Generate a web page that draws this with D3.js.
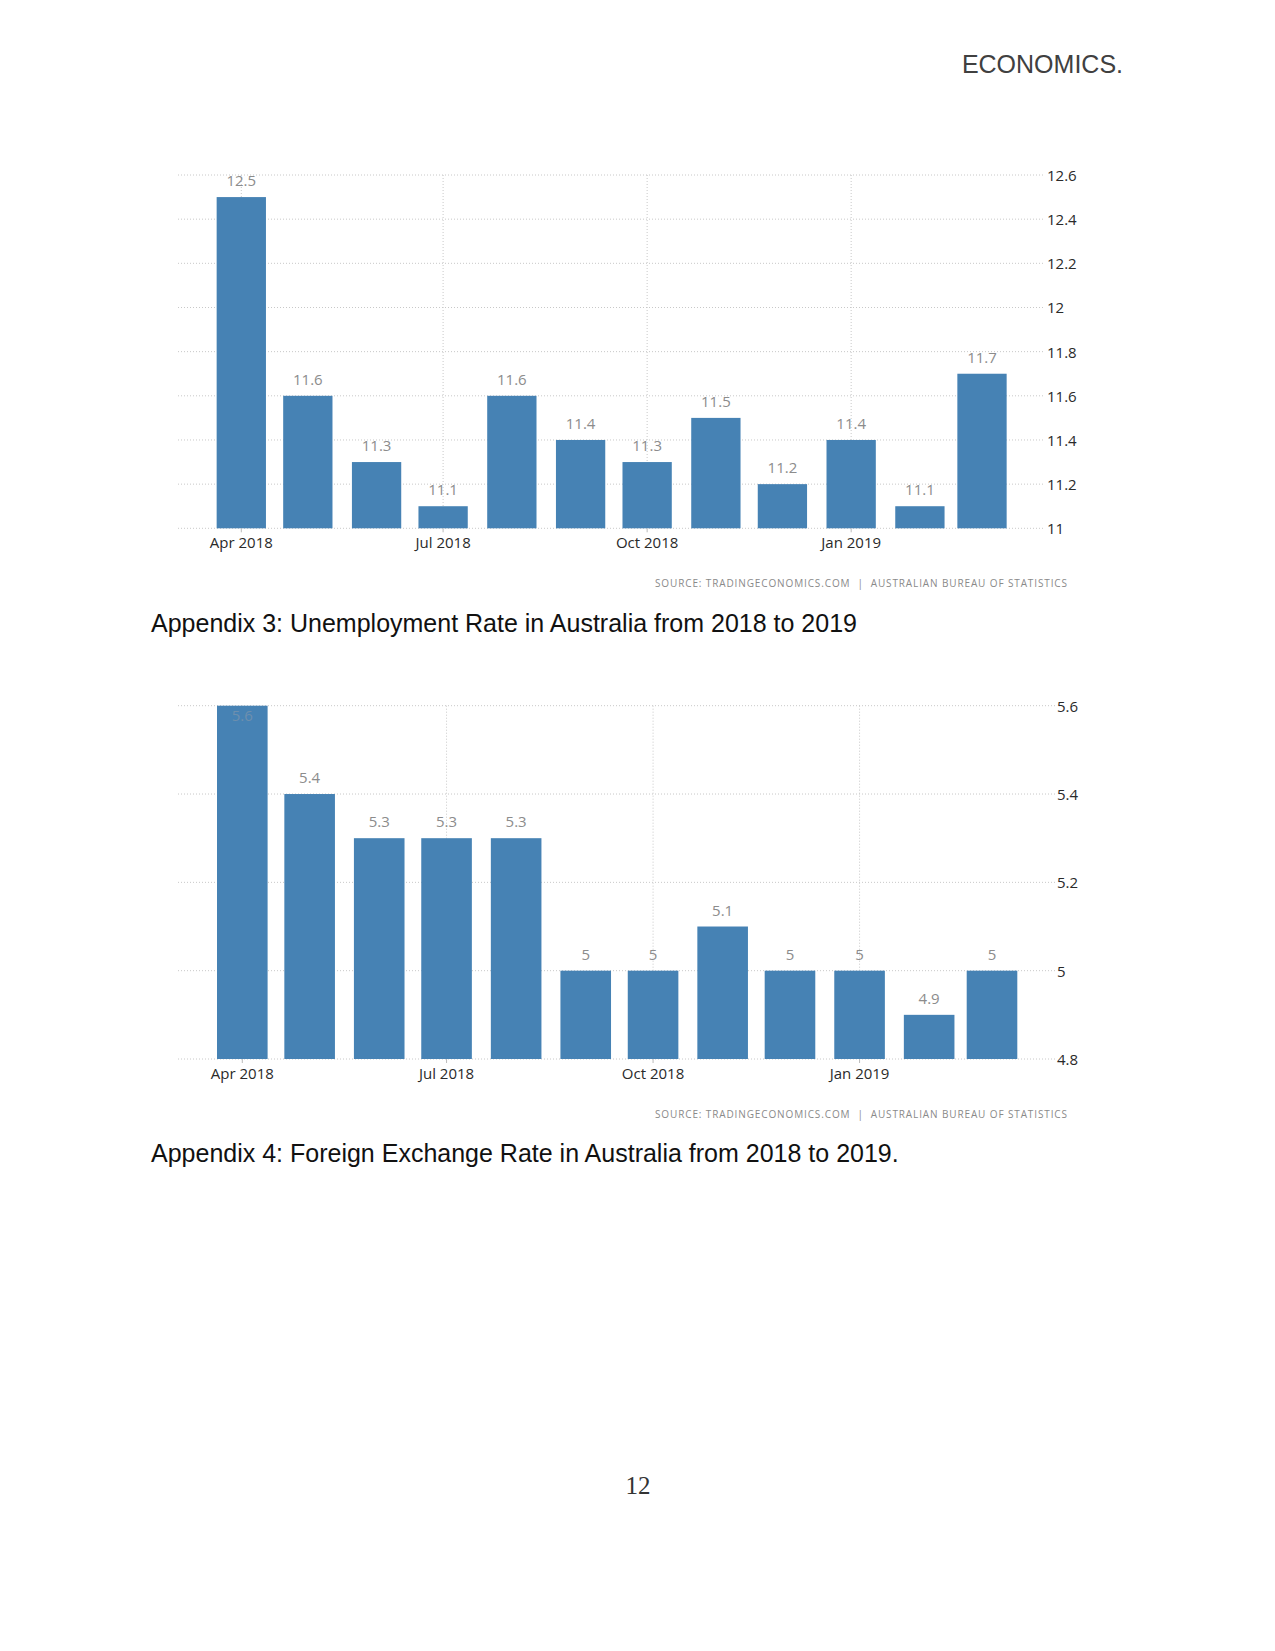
<!DOCTYPE html>
<html>
<head>
<meta charset="utf-8">
<script src="https://cdn.jsdelivr.net/npm/d3@7"></script>
<style>
  html, body { margin: 0; padding: 0; background: #fff; }
  svg { display: block; }
</style>
</head>
<body>
<svg id="page" width="1275" height="1651"></svg>
<script>
// ---- Data ----
const months = ["2018-04-01","2018-05-01","2018-06-01","2018-07-01","2018-08-01","2018-09-01",
                "2018-10-01","2018-11-01","2018-12-01","2019-01-01","2019-02-01","2019-03-01"];
const unemploymentValues = [12.5, 11.6, 11.3, 11.1, 11.6, 11.4, 11.3, 11.5, 11.2, 11.4, 11.1, 11.7];
const fxValues = [5.6, 5.4, 5.3, 5.3, 5.3, 5, 5, 5.1, 5, 5, 4.9, 5];
const unemploymentTicks = [11, 11.2, 11.4, 11.6, 11.8, 12, 12.2, 12.4, 12.6];
const fxTicks = [4.8, 5, 5.2, 5.4, 5.6];
const xTickDates = ["2018-04-01", "2018-07-01", "2018-10-01", "2019-01-01"];
const xTickLabels = ["Apr 2018", "Jul 2018", "Oct 2018", "Jan 2019"];
const sourceText = "SOURCE: TRADINGECONOMICS.COM  |  AUSTRALIAN BUREAU OF STATISTICS";
const caption3 = "Appendix 3: Unemployment Rate in Australia from 2018 to 2019";
const caption4 = "Appendix 4: Foreign Exchange Rate in Australia from 2018 to 2019.";
const headerText = "ECONOMICS.";
const pageNumber = "12";

const svg = d3.select("#page");
const parse = d3.utcParse("%Y-%m-%d");
const BAR = "#4682b4";
const CHART_FONT = "'Open Sans', 'DejaVu Sans', sans-serif";

// header
svg.append("text").attr("x", 1123).attr("y", 73).attr("text-anchor", "end")
  .attr("font-family", "'Liberation Sans', Arial, sans-serif").attr("font-size", 25)
  .attr("fill", "#404040").text(headerText);

function drawChart(cfg) {
  const g = svg.append("g");
  const x = d3.scaleUtc().domain([parse(months[0]), parse(months[months.length - 1])])
    .range([cfg.x0, cfg.x1]);
  const y = d3.scaleLinear().domain(cfg.domain).range([cfg.yBottom, cfg.yTop]);

  // horizontal gridlines
  g.selectAll("line.hg").data(cfg.ticks).join("line")
    .attr("x1", cfg.gridLeft).attr("x2", cfg.gridRight)
    .attr("y1", d => y(d)).attr("y2", d => y(d))
    .attr("stroke", "#c8c8c8").attr("stroke-width", 1).attr("stroke-dasharray", "1,2");

  // vertical gridlines
  g.selectAll("line.vg").data(xTickDates).join("line")
    .attr("x1", d => x(parse(d))).attr("x2", d => x(parse(d)))
    .attr("y1", cfg.yTop).attr("y2", cfg.yBottom)
    .attr("stroke", "#c8c8c8").attr("stroke-width", 1).attr("stroke-dasharray", "1,2");

  // bars
  g.selectAll("rect.bar").data(cfg.values).join("rect")
    .attr("x", (d, i) => x(parse(months[i])) - cfg.barW / 2)
    .attr("width", cfg.barW)
    .attr("y", d => y(d))
    .attr("height", d => cfg.yBottom - y(d))
    .attr("fill", BAR);

  const inside = d => (y(d) - 11.5 < cfg.yTop - 8);
  // value labels
  g.selectAll("text.val").data(cfg.values).join("text")
    .attr("x", (d, i) => x(parse(months[i])))
    .attr("y", d => inside(d) ? y(d) + 15 : y(d) - 11)
    .attr("text-anchor", "middle")
    .attr("font-family", CHART_FONT).attr("font-size", 15)
    .attr("fill", d => inside(d) ? "#6d8fae" : "#8c8c8c")
    .text(d => d);

  // x axis tick marks + labels
  g.selectAll("line.xt").data(xTickDates).join("line")
    .attr("x1", d => x(parse(d))).attr("x2", d => x(parse(d)))
    .attr("y1", cfg.yBottom).attr("y2", cfg.yBottom + 4)
    .attr("stroke", "#bbb");
  g.selectAll("text.xl").data(xTickDates).join("text")
    .attr("x", d => x(parse(d))).attr("y", cfg.yBottom + 20)
    .attr("text-anchor", "middle")
    .attr("font-family", CHART_FONT).attr("font-size", 15)
    .attr("fill", "#2a2a2a")
    .text((d, i) => xTickLabels[i]);

  // y axis labels (right)
  g.selectAll("text.yl").data(cfg.ticks).join("text")
    .attr("x", cfg.yLabelX).attr("y", d => y(d))
    .attr("dominant-baseline", "central")
    .attr("font-family", CHART_FONT).attr("font-size", 15)
    .attr("fill", "#2a2a2a")
    .text(d => d);

  // source
  g.append("text").attr("x", 655).attr("y", cfg.sourceY)
    .attr("font-family", CHART_FONT).attr("font-size", 10)
    .attr("fill", "#8a8a8a")
    .attr("textLength", 412).attr("lengthAdjust", "spacing")
    .attr("xml:space", "preserve")
    .text(sourceText);

  // caption
  svg.append("text").attr("x", 151).attr("y", cfg.captionY)
    .attr("font-family", "'Liberation Sans', Arial, sans-serif").attr("font-size", 25)
    .attr("fill", "#111").text(cfg.caption);
}

drawChart({
  values: unemploymentValues, ticks: unemploymentTicks, domain: [11, 12.6],
  x0: 241.3, x1: 982, yTop: 175, yBottom: 528.3, barW: 49.3,
  gridLeft: 178, gridRight: 1043, yLabelX: 1047,
  sourceY: 587, captionY: 631.5, caption: caption3
});

drawChart({
  values: fxValues, ticks: fxTicks, domain: [4.8, 5.6],
  x0: 242.3, x1: 992, yTop: 705.7, yBottom: 1059, barW: 50.6,
  gridLeft: 178, gridRight: 1055, yLabelX: 1057,
  sourceY: 1118, captionY: 1161.5, caption: caption4
});

// page number
svg.append("text").attr("x", 638).attr("y", 1494).attr("text-anchor", "middle")
  .attr("font-family", "'Liberation Serif', 'Times New Roman', serif").attr("font-size", 25)
  .attr("fill", "#333").text(pageNumber);
</script>
</body>
</html>
